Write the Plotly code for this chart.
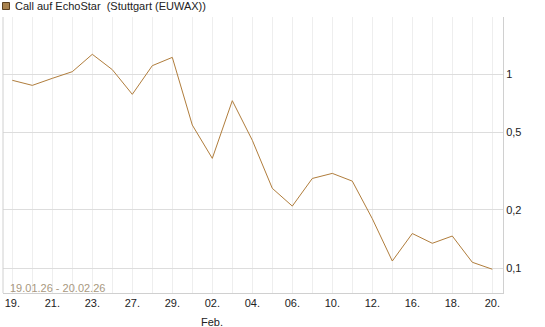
import plotly.graph_objects as go

# Trading days 19.01.26 - 20.02.26
dates = ["19.01.", "20.01.", "21.01.", "22.01.", "23.01.", "26.01.", "27.01.", "28.01.",
         "29.01.", "30.01.", "02.02.", "03.02.", "04.02.", "05.02.", "06.02.", "09.02.",
         "10.02.", "11.02.", "12.02.", "13.02.", "16.02.", "17.02.", "18.02.", "19.02.",
         "20.02."]
values = [0.928, 0.874, 0.950, 1.028, 1.263, 1.053, 0.786, 1.104, 1.218, 0.546,
          0.368, 0.729, 0.456, 0.258, 0.209, 0.290, 0.308, 0.281, 0.180, 0.109,
          0.151, 0.1345, 0.1466, 0.1074, 0.0989]
x_labels = [d[:3] if i % 2 == 0 else "" for i, d in enumerate(dates)]
y_ticks = [0.1, 0.2, 0.5, 1]
y_ticktext = ["0,1", "0,2", "0,5", "1"]

idx = list(range(len(dates)))
font = "Liberation Sans, Arial, sans-serif"
line_color = "#b07d3c"

# plot area in pixels: x 3..503, y 17..293
PW, PH, PB = 500, 276, 293


def py(y):
    return (PB - y) / PH


fig = go.Figure()
fig.add_trace(go.Scatter(x=idx, y=values, mode="lines",
                         line=dict(color=line_color, width=1),
                         hoverinfo="skip", showlegend=False))

fig.update_layout(
    width=545, height=327,
    margin=dict(l=3, r=42, t=17, b=34),
    paper_bgcolor="white", plot_bgcolor="white",
    font=dict(family=font, size=11, color="#222222"),
    xaxis=dict(range=[-0.465, 24.535], tickvals=idx, ticktext=x_labels,
               showgrid=True, gridcolor="#eeeeee", gridwidth=1,
               showline=True, linecolor="#d0d0d0", linewidth=1,
               ticks="", zeroline=False, fixedrange=True,
               tickfont=dict(size=11, color="#222222")),
    yaxis=dict(type="log", range=[-1.1271, 0.2934], side="right",
               tickvals=y_ticks, ticktext=y_ticktext,
               showgrid=True, gridcolor="#dddddd", gridwidth=1,
               showline=True, linecolor="#d0d0d0", linewidth=1,
               ticks="", zeroline=False, fixedrange=True,
               tickfont=dict(size=11, color="#222222")),
    shapes=[
        dict(type="line", xref="paper", yref="paper", x0=0, x1=0, y0=0, y1=1,
             line=dict(color="#d0d0d0", width=1)),
        dict(type="rect", xref="paper", yref="paper",
             x0=-0.5 / PW, x1=6.5 / PW, y0=py(9.5), y1=py(2.5),
             fillcolor="#a8824e", line=dict(color="#5a4020", width=1)),
    ],
    annotations=[
        dict(text="Call auf EchoStar  (Stuttgart (EUWAX))", xref="paper", yref="paper",
             x=10 / PW, y=py(6.5), xanchor="left", yanchor="middle",
             showarrow=False, font=dict(family=font, size=11, color="#222222")),
        dict(text="19.01.26 - 20.02.26", xref="paper", yref="paper",
             x=5 / PW, y=py(288), xanchor="left", yanchor="middle",
             showarrow=False, font=dict(family=font, size=11, color="#a89880")),
        dict(text="Feb.", xref="x", yref="paper", x=10, y=py(322),
             xanchor="center", yanchor="middle", showarrow=False,
             font=dict(family=font, size=11, color="#222222")),
    ],
)

fig.write_html("out.html")
